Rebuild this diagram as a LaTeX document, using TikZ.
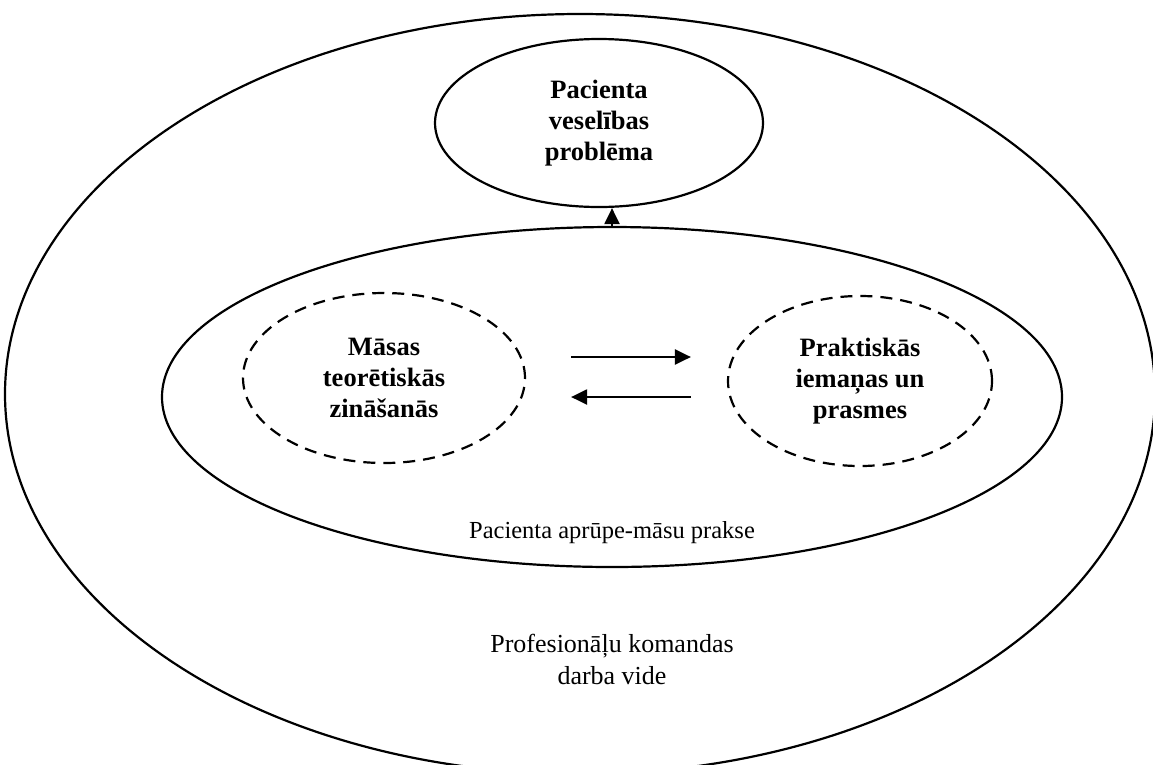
\documentclass[tikz,border=0pt]{standalone}
\usepackage{fontspec}
\setmainfont{Liberation Serif}
\usetikzlibrary{shapes.geometric,arrows.meta}

\tikzset{
  oval/.style={draw,ellipse,line width=2.2pt,align=center,inner sep=0pt,
    font=\fontsize{26.5}{31}\selectfont\bfseries},
  firm/.style={solid},
  loose/.style={dash pattern=on 12pt off 8pt},
  flow/.style={-{Triangle[length=16pt,width=15pt]},line width=2.2pt},
  caption/.style={align=center,font=\fontsize{26}{32}\selectfont}
}

\begin{document}
\begin{tikzpicture}[x=1pt,y=-1pt]
      \useasboundingbox (0,0) rectangle (1153,764);
      \def \Ovals{
        outer/580/394/1150/760/firm/{},
        middle/612/397/900/340/firm/{},
        problem/599/123/328/168/firm/{Pacienta\\veselības\\problēma},
        theory/384/378/282/170/loose/{Māsas\\teorētiskās\\zināšanās},
        practice/860/381/264/170/loose/{Praktiskās\\iemaņas un\\prasmes}}
      \foreach \id / \x / \y / \w / \h / \s / \t in \Ovals{
        \node[oval,\s,minimum width=\w pt,minimum height=\h pt] (\id) at (\x, \y) {\t};
      }
      \node[caption,font=\fontsize{24.5}{30}\selectfont] (care) at (612,533) {Pacienta aprūpe-māsu prakse};
      \node[caption] (team) at (612,659) {Profesionāļu komandas\\darba vide};
      \draw[flow] (middle.north) -- (middle.north |- problem.south);
      \draw[flow,shorten <=45pt,shorten >=36pt] ([yshift=21pt]theory.east) -- ([yshift=21pt]theory.east -| practice.west);
      \draw[flow,shorten <=36pt,shorten >=45pt] ([yshift=-19pt]theory.east -| practice.west) -- ([yshift=-19pt]theory.east);
    \end{tikzpicture}
\end{document}
